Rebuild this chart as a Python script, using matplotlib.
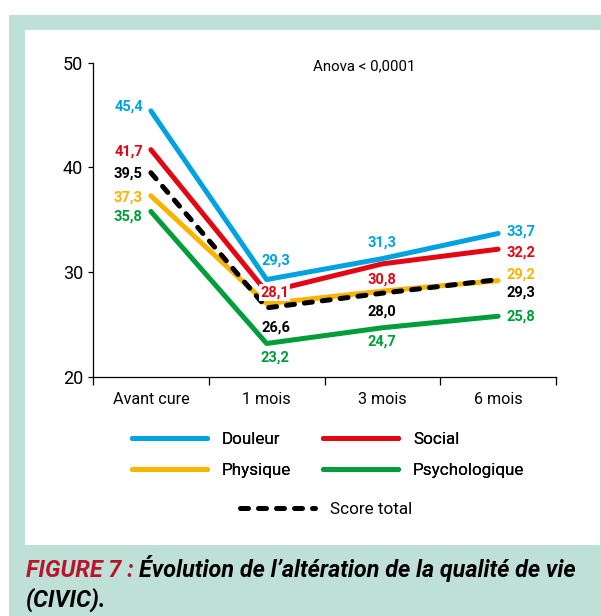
import matplotlib
matplotlib.use("Agg")
import matplotlib.pyplot as plt
from matplotlib.patches import Rectangle

plt.rcParams["font.family"] = ["Roboto", "DejaVu Sans"]

categories = ["Avant cure", "1 mois", "3 mois", "6 mois"]
douleur = [45.4, 29.3, 31.3, 33.7]
social = [41.7, 28.1, 30.8, 32.2]
physique = [37.3, 27.0, 28.2, 29.2]
psychologique = [35.8, 23.2, 24.7, 25.8]
score_total = [39.5, 26.6, 28.0, 29.3]
y_ticks = [20, 30, 40, 50]

BLUE = "#00a3e0"
RED = "#e30613"
YELLOW = "#f7b500"
GREEN = "#009e3a"
TEAL = "#bfe0d6"
CAPTION_RED = "#b8142c"

# label offsets (pixels) per point, None = no label
label_pos = {
    "douleur": [(-8, 4), (9, 19), (0, 16), (8, 2)],
    "social": [(-8, -2), (8, 0), (0, -16), (8, -3)],
    "physique": [(-8, -1.5), None, None, (8, 6.5)],
    "psychologique": [(-8, -5.5), (8, -14), (0, -14), (8, 0)],
    "score_total": [(-8, -1), (9, -19.5), (0, -18), (8, -13)],
}
label_color = {"douleur": BLUE, "social": RED, "physique": YELLOW,
               "psychologique": GREEN, "score_total": "black"}

W, H = 601, 616
fig = plt.figure(figsize=(W / 100, H / 100), dpi=100, facecolor="white")

# framed box
fig.add_artist(Rectangle((9 / W, 0), 1 - 9 / W, 1 - 15 / H, transform=fig.transFigure,
                         facecolor=TEAL, edgecolor="none", zorder=-10))
fig.add_artist(Rectangle((25 / W, 1 - 545 / H), (600 - 25) / W, (545 - 30) / H,
                         transform=fig.transFigure, facecolor="white",
                         edgecolor="none", zorder=-9))

ax = fig.add_axes([93 / W, 1 - 377 / H, (556 - 93) / W, (377 - 62.7) / H])
ax.patch.set_alpha(0)

x = list(range(len(categories)))
lw = 3.6
dash = (0, (1.6, 2.0))
ax.plot(x, psychologique, color=GREEN, lw=lw, solid_capstyle="round", zorder=3)
ax.plot(x, physique, color=YELLOW, lw=lw, solid_capstyle="round", zorder=3)
ax.plot(x, score_total, color="black", lw=lw, linestyle=dash, dash_capstyle="round", zorder=4)
ax.plot(x, social, color=RED, lw=lw, solid_capstyle="round", zorder=3)
ax.plot(x, douleur, color=BLUE, lw=lw, solid_capstyle="round", zorder=3)

series = {"douleur": douleur, "social": social, "physique": physique,
          "psychologique": psychologique, "score_total": score_total}
for name, vals in series.items():
    for i, v in enumerate(vals):
        pos = label_pos[name][i]
        if pos is None:
            continue
        ha = "right" if i == 0 else ("left" if i == len(vals) - 1 else "center")
        kw = {}
        if name == "social" and i == 1:
            kw["bbox"] = dict(facecolor="white", edgecolor="none", pad=1)
        ax.annotate(f"{v:.1f}".replace(".", ","), (i, v), xytext=pos,
                    textcoords="offset pixels", ha=ha, va="center",
                    color=label_color[name], fontsize=10.5, fontweight="bold",
                    zorder=6, **kw)

ax.set_xlim(-0.5, len(categories) - 0.5)
ax.set_ylim(20, 50)
ax.set_yticks(y_ticks)
ax.set_xticks(x)
ax.set_xticklabels(categories)
ax.set_xticks([i - 0.5 for i in range(len(categories) + 1)], minor=True)
ax.tick_params(axis="x", which="major", length=0, pad=10.5, labelsize=11.6)
ax.tick_params(axis="x", which="minor", length=6, width=0.9, direction="out")
ax.tick_params(axis="y", length=3.5, width=0.9, pad=3.5, labelsize=13)
for s in ["top", "right"]:
    ax.spines[s].set_visible(False)
for s in ["left", "bottom"]:
    ax.spines[s].set_linewidth(0.9)

ax.text(0.585, 0.99, "Anova < 0,0001", transform=ax.transAxes, ha="center",
        va="center", fontsize=10.8)

# legends
h_d, = ax.plot([], [], color=BLUE, lw=lw, solid_capstyle="round")
h_s, = ax.plot([], [], color=RED, lw=lw, solid_capstyle="round")
h_p, = ax.plot([], [], color=YELLOW, lw=lw, solid_capstyle="round")
h_g, = ax.plot([], [], color=GREEN, lw=lw, solid_capstyle="round")
h_t, = ax.plot([], [], color="black", lw=lw, linestyle=dash, dash_capstyle="round")

lfs = 12.3
hl = 54 / lfs
leg1 = fig.legend([h_d, h_p, h_s, h_g], ["Douleur", "Physique", "Social", "Psychologique"],
                  ncol=2, loc="center left", bbox_to_anchor=(131.5 / W, 1 - 455 / H),
                  frameon=False, fontsize=lfs, handlelength=hl, handletextpad=11 / lfs,
                  columnspacing=1.85, labelspacing=0.92, borderpad=0, borderaxespad=0)
fig.add_artist(leg1)
fig.legend([h_t], ["Score total"], loc="center left",
           bbox_to_anchor=(239.5 / W, 1 - 509 / H), frameon=False, fontsize=lfs,
           handlelength=hl, handletextpad=11 / lfs, borderpad=0, borderaxespad=0)

# caption
cfs = 16.8
t1 = fig.text(26 / W, 1 - 577 / H, "FIGURE 7 : ", color=CAPTION_RED, fontsize=cfs,
              fontweight="bold", fontstyle="italic", va="baseline")
ax.annotate("Évolution de l’altération de la qualité de vie", xy=(1, 0), xycoords=t1,
            va="bottom", ha="left", fontsize=cfs, fontweight="bold", fontstyle="italic",
            color="black", annotation_clip=False)
fig.text(26 / W, 1 - 607 / H, "(CIVIC).", color="black", fontsize=cfs,
         fontweight="bold", fontstyle="italic", va="baseline")

fig.savefig("out.png", dpi=100, facecolor="white")
